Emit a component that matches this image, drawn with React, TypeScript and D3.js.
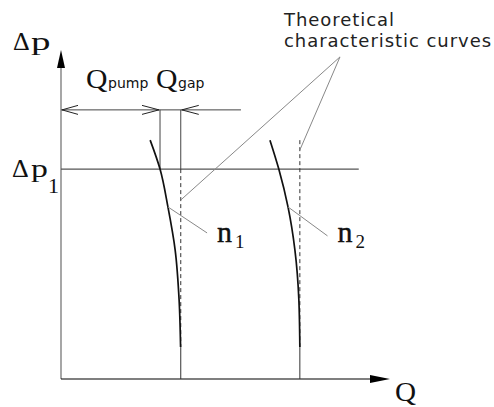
import React from "react";
import * as d3 from "d3";

// Operating points of the pump (Q and Δp in relative units, 0..100)
const speedNames = ["1", "2"];
const theoreticalQ = [36.4, 72.6]; // ideal (leak-free) flow at speeds n1, n2
const curveDp = [72.6, 63.8, 52.3, 39.2, 24.0, 9.7];
const slipN1 = [9.3, 6.3, 3.9, 1.7, 0.5, 0.05];
const slipN2 = [9.1, 6.4, 3.6, 1.5, 0.3, 0.0];
const slips = [slipN1, slipN2];
const dp1 = 63.8; // pressure level Δp1
const dimensionDp = 81.8; // height of the Qpump / Qgap dimension line
const theoDashTop = [dp1, 72.6];
const theoDashBottom = 9.7;
const leaderFrom = { q: 84.8, dp: 97.9 };
const leaderTargetsDp = [54.4, 69.6];
const speedLeaderDp = 52.3;
const speedLeaderEnd = [
  { q: 44.4, dp: 44.4 },
  { q: 81.0, dp: 43.5 },
];
const noteLines = ["Theoretical", "characteristic curves"];

const W = 494;
const H = 407;

const x = d3.scaleLinear().domain([0, 100]).range([61, 390]);
const y = d3.scaleLinear().domain([0, 100]).range([379, 50]);

const serif = "'Liberation Serif', 'Times New Roman', serif";
const sans = "'DejaVu Sans', Verdana, sans-serif";

function Stretched({ x: tx, y: ty, sx, size, children }: any) {
  return (
    <text
      transform={`translate(${tx},${ty}) scale(${sx},1)`}
      fontFamily={serif}
      fontSize={size}
      fill="#111"
    >
      {children}
    </text>
  );
}

export default function App() {
  const line = d3
    .line<[number, number]>()
    .x((d) => x(d[0]))
    .y((d) => y(d[1]))
    .curve(d3.curveMonotoneY);

  const pumpQ = theoreticalQ[0] - slipN1[1];
  const dimY = y(dimensionDp);

  return (
    <svg
      width={W}
      height={H}
      style={{ position: "absolute", left: 0, top: 0, background: "#fff" }}
    >
      {/* axes */}
      <line x1={x(0)} y1={y(0)} x2={x(0)} y2={y(100) + 16} stroke="#777" strokeWidth={1.3} />
      <path
        d={`M${x(0)},${y(100)} L${x(0) - 4},${y(100) + 18} L${x(0) + 4},${y(100) + 18} Z`}
        fill="#000"
      />
      <line x1={x(0)} y1={y(0)} x2={x(100) - 16} y2={y(0)} stroke="#000" strokeWidth={1.2} />
      <path
        d={`M${x(100)},${y(0)} L${x(100) - 20},${y(0) - 4} L${x(100) - 20},${y(0) + 4} Z`}
        fill="#000"
      />

      {/* Δp1 level */}
      <line x1={x(0)} y1={y(dp1)} x2={x(90.5)} y2={y(dp1)} stroke="#555" strokeWidth={1.1} />

      {/* dimension line Qpump / Qgap */}
      <line x1={x(0)} y1={dimY} x2={x(54.7)} y2={dimY} stroke="#444" strokeWidth={1} />
      <line x1={x(pumpQ)} y1={dimY} x2={x(pumpQ)} y2={y(dp1)} stroke="#444" strokeWidth={1} />
      <line
        x1={x(theoreticalQ[0])}
        y1={dimY}
        x2={x(theoreticalQ[0])}
        y2={y(dp1)}
        stroke="#444"
        strokeWidth={1}
      />
      {/* open arrowheads */}
      <path
        d={`M${x(0) + 17},${dimY - 4.5} L${x(0) + 1},${dimY} L${x(0) + 17},${dimY + 4.5}`}
        fill="none"
        stroke="#222"
        strokeWidth={1}
      />
      <path
        d={`M${x(pumpQ) - 18},${dimY - 4.5} L${x(pumpQ) - 1},${dimY} L${x(pumpQ) - 18},${dimY + 4.5}`}
        fill="none"
        stroke="#222"
        strokeWidth={1}
      />
      <path
        d={`M${x(theoreticalQ[0]) + 18},${dimY - 4.5} L${x(theoreticalQ[0]) + 1},${dimY} L${
          x(theoreticalQ[0]) + 18
        },${dimY + 4.5}`}
        fill="none"
        stroke="#222"
        strokeWidth={1}
      />

      {/* theoretical characteristics */}
      {theoreticalQ.map((q, i) => (
        <g key={"t" + i}>
          <line
            x1={x(q)}
            y1={y(theoDashTop[i])}
            x2={x(q)}
            y2={y(theoDashBottom)}
            stroke="#333"
            strokeWidth={1}
            strokeDasharray="4,3"
          />
          <line x1={x(q)} y1={y(theoDashBottom)} x2={x(q)} y2={y(0)} stroke="#333" strokeWidth={1} />
        </g>
      ))}

      {/* real characteristics */}
      {theoreticalQ.map((q, i) => (
        <path
          key={"c" + i}
          d={line(curveDp.map((dp, k) => [q - slips[i][k], dp]) as [number, number][]) || ""}
          fill="none"
          stroke="#111"
          strokeWidth={1.7}
        />
      ))}

      {/* leaders to the theoretical curves */}
      {theoreticalQ.map((q, i) => (
        <line
          key={"l" + i}
          x1={x(leaderFrom.q)}
          y1={y(leaderFrom.dp)}
          x2={x(q)}
          y2={y(leaderTargetsDp[i])}
          stroke="#888"
          strokeWidth={1}
        />
      ))}

      {/* leaders to the speed labels */}
      {theoreticalQ.map((q, i) => {
        const k = curveDp.indexOf(speedLeaderDp);
        const e = speedLeaderEnd[i];
        return (
          <g key={"n" + i}>
            <line
              x1={x(q - slips[i][k])}
              y1={y(speedLeaderDp)}
              x2={x(e.q)}
              y2={y(e.dp)}
              stroke="#888"
              strokeWidth={1}
            />
            <text
              x={x(e.q) + 10}
              y={242}
              fontFamily={serif}
              fontSize={30}
              fill="#111"
              stroke="#111"
              strokeWidth={0.4}
            >
              n
            </text>
            <text x={x(e.q) + 28} y={248} fontFamily={serif} fontSize={19} fill="#111">
              {speedNames[i]}
            </text>
          </g>
        );
      })}

      {/* axis titles */}
      <Stretched x={13} y={50} sx={1} size={26}>Δ</Stretched>
      <Stretched x={31} y={50} sx={1.5} size={26}>p</Stretched>
      <Stretched x={12} y={177} sx={1} size={26}>Δ</Stretched>
      <Stretched x={31} y={177} sx={1.3} size={26}>p</Stretched>
      <text x={48} y={193} fontFamily={serif} fontSize={22} fill="#111">1</text>
      <Stretched x={395} y={401} sx={1.08} size={27}>Q</Stretched>

      {/* dimension labels */}
      <Stretched x={86} y={88} sx={1.1} size={27}>Q</Stretched>
      <text x={108} y={88} fontFamily={sans} fontSize={14} fill="#111">pump</text>
      <Stretched x={156} y={88} sx={1.1} size={27}>Q</Stretched>
      <text x={178} y={88} fontFamily={sans} fontSize={14} fill="#111">gap</text>

      {noteLines.map((t, i) => (
        <text
          key={t}
          x={284}
          y={26 + i * 21}
          fontFamily={sans}
          fontSize={18}
          letterSpacing={0.95}
          fill="#222"
        >
          {t}
        </text>
      ))}
    </svg>
  );
}
